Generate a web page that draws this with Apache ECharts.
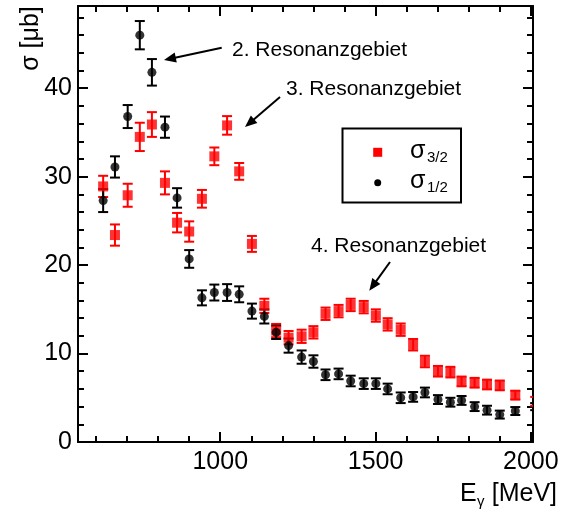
<!DOCTYPE html>
<html><head><meta charset="utf-8">
<script src="https://cdn.jsdelivr.net/npm/echarts@6/dist/echarts.min.js"></script>
<style>html,body{margin:0;padding:0;background:#fff}#c{width:571px;height:515px}</style>
</head><body><div id="c"></div>
<script>
// photon energy E_gamma [MeV]
const energy = [623, 661, 702, 741, 780, 822, 861, 900, 941, 981, 1022, 1061, 1102, 1142, 1180, 1220, 1262, 1300, 1339, 1381, 1420, 1462, 1501, 1539, 1581, 1621, 1659, 1701, 1741, 1777, 1819, 1859, 1900, 1950, 2014];
// sigma_3/2 [mub]
const sigma32 = [28.9, 23.4, 27.9, 34.5, 35.9, 29.3, 24.8, 23.8, 27.5, 32.3, 35.8, 30.6, 22.4, 15.4, 12.6, 11.8, 11.95, 12.4, 14.5, 14.8, 15.5, 15.25, 14.3, 13.3, 12.7, 11.0, 9.1, 8.0, 7.9, 6.85, 6.7, 6.5, 6.4, 5.3, 4.6];
const err32 = [1.2, 1.2, 1.3, 1.6, 1.4, 1.3, 1.1, 1.15, 1.0, 1.0, 1.05, 0.95, 0.9, 0.8, 0.75, 0.75, 0.75, 0.7, 0.7, 0.7, 0.7, 0.7, 0.7, 0.7, 0.7, 0.65, 0.65, 0.6, 0.6, 0.55, 0.55, 0.55, 0.55, 0.5, 0.5];
// sigma_1/2 [mub]
const sigma12 = [27.3, 31.1, 36.8, 46.0, 41.8, 35.6, 27.6, 20.7, 16.3, 16.9, 16.9, 16.7, 14.8, 14.2, 12.4, 10.9, 9.6, 9.1, 7.6, 7.7, 6.9, 6.6, 6.6, 6.0, 5.0, 5.1, 5.6, 4.8, 4.5, 4.7, 4.0, 3.6, 3.1, 3.5, 4.0];
const err12 = [1.3, 1.2, 1.3, 1.6, 1.5, 1.2, 1.1, 1.0, 0.85, 0.9, 0.95, 0.9, 0.85, 0.8, 0.75, 0.8, 0.75, 0.7, 0.6, 0.6, 0.6, 0.6, 0.6, 0.6, 0.6, 0.55, 0.55, 0.5, 0.5, 0.5, 0.5, 0.5, 0.45, 0.45, 0.4];
// ticks
const xMajorTicks = [1000, 1500, 2000];
const xMinorTicks = [600, 700, 800, 900, 1100, 1200, 1300, 1400, 1600, 1700, 1800, 1900];
const yMajorTicks = [0, 10, 20, 30, 40];
const yMinorTicks = [2, 4, 6, 8, 12, 14, 16, 18, 22, 24, 26, 28, 32, 34, 36, 38, 42, 44, 46, 48];

const FONT = 'Liberation Sans, Arial, sans-serif';
const RED = '#ff0000', BLACK = '#000000';
const X_MIN = 542, X_MAX = 2007, Y_MIN = 0, Y_MAX = 49.3;

function xAx(pos, ticks, len, labels) {
  return {
    type: 'value', position: pos, min: X_MIN, max: X_MAX,
    axisLine: { show: len === 10, onZero: false, lineStyle: { color: BLACK, width: 2 } },
    axisTick: { show: true, inside: true, length: len, customValues: ticks, lineStyle: { color: BLACK, width: 2 } },
    axisLabel: labels ? { show: true, customValues: ticks, fontSize: 25, fontFamily: FONT, color: BLACK, margin: 8, formatter: v => String(v) } : { show: false },
    splitLine: { show: false }
  };
}
function yAx(pos, ticks, len, labels) {
  return {
    type: 'value', position: pos, min: Y_MIN, max: Y_MAX, offset: 0,
    axisLine: { show: len === 10, onZero: false, lineStyle: { color: BLACK, width: 2 } },
    axisTick: { show: true, inside: true, length: len, customValues: ticks, lineStyle: { color: BLACK, width: 2 } },
    axisLabel: labels ? { show: true, customValues: ticks, fontSize: 25, fontFamily: FONT, color: BLACK, margin: 6, formatter: v => String(v) } : { show: false },
    splitLine: { show: false }
  };
}

function errData(s, e) { return energy.map((x, i) => [x, s[i] - e[i], s[i] + e[i]]); }
function errSeries(s, e, color) {
  return {
    type: 'custom', xAxisIndex: 0, yAxisIndex: 0, clip: true, silent: true,
    data: errData(s, e), encode: { x: 0, y: [1, 2] },
    renderItem: function (params, api) {
      const x = api.value(0);
      const lo = api.coord([x, api.value(1)]);
      const hi = api.coord([x, api.value(2)]);
      const hw = 5;
      const st = { stroke: color, lineWidth: 2 };
      return { type: 'group', children: [
        { type: 'line', shape: { x1: lo[0], y1: lo[1], x2: hi[0], y2: hi[1] }, style: st },
        { type: 'line', shape: { x1: lo[0] - hw, y1: lo[1], x2: lo[0] + hw, y2: lo[1] }, style: st },
        { type: 'line', shape: { x1: hi[0] - hw, y1: hi[1], x2: hi[0] + hw, y2: hi[1] }, style: st }
      ] };
    }
  };
}

function arrow(x1, y1, x2, y2) {
  const dx = x2 - x1, dy = y2 - y1, L = Math.hypot(dx, dy), ux = dx / L, uy = dy / L;
  const hl = 12, hw = 5;
  const bx = x2 - ux * hl, by = y2 - uy * hl;
  return [
    { type: 'line', shape: { x1: x1, y1: y1, x2: bx + ux * 2, y2: by + uy * 2 }, style: { stroke: BLACK, lineWidth: 2 } },
    { type: 'polygon', shape: { points: [[x2, y2], [bx - uy * hw, by + ux * hw], [bx + uy * hw, by - ux * hw]] }, style: { fill: BLACK } }
  ];
}
function txt(x, y, t, size, align, extra) {
  return Object.assign({ type: 'text', x: x, y: y, style: { text: t, fontSize: size, fontFamily: FONT, fill: BLACK, align: align || 'left', verticalAlign: 'middle' } }, extra || {});
}

const chart = echarts.init(document.getElementById('c'), null, { renderer: 'canvas' });
chart.setOption({
  animation: false,
  backgroundColor: '#ffffff',
  textStyle: { fontFamily: FONT },
  grid: { left: 78, right: 38, top: 6, bottom: 73, containLabel: false },
  xAxis: [
    xAx('bottom', xMajorTicks, 10, true),
    xAx('bottom', xMinorTicks, 6, false),
    xAx('top', xMajorTicks, 10, false),
    xAx('top', xMinorTicks, 6, false)
  ],
  yAxis: [
    yAx('left', yMajorTicks, 10, true),
    yAx('left', yMinorTicks, 6, false),
    yAx('right', yMajorTicks, 10, false),
    yAx('right', yMinorTicks, 6, false)
  ],
  series: [
    errSeries(sigma32, err32, RED),
    { name: 'σ3/2', type: 'scatter', xAxisIndex: 0, yAxisIndex: 0, symbol: 'rect', symbolSize: 10,
      itemStyle: { color: RED }, data: energy.map((x, i) => [x, sigma32[i]]) },
    errSeries(sigma12, err12, BLACK),
    { name: 'σ1/2', type: 'scatter', xAxisIndex: 0, yAxisIndex: 0, symbol: 'circle', symbolSize: 9,
      itemStyle: { color: BLACK }, data: energy.map((x, i) => [x, sigma12[i]]) }
  ],
  graphic: [].concat(
    [
      txt(232, 50, '2. Resonanzgebiet', 21),
      txt(286, 89, '3. Resonanzgebiet', 21),
      txt(311, 246, '4. Resonanzgebiet', 21),
      txt(31, 38.5, 'σ [μb]', 25, 'center', { rotation: Math.PI / 2 }),
      txt(460, 494, 'E', 25),
      txt(477, 502, 'γ', 15),
      txt(557, 494, '[MeV]', 25, 'right'),
      { type: 'rect', shape: { x: 342.5, y: 128.5, width: 118.5, height: 74 }, style: { fill: 'none', stroke: BLACK, lineWidth: 2 } },
      { type: 'rect', shape: { x: 373.2, y: 147.8, width: 9, height: 9 }, style: { fill: RED } },
      { type: 'circle', shape: { cx: 377.7, cy: 182.7, r: 3.5 }, style: { fill: BLACK } },
      txt(410, 151, 'σ', 25),
      txt(427, 158, '3/2', 15),
      txt(410, 181, 'σ', 25),
      txt(427, 188, '1/2', 15)
    ],
    arrow(221.7, 47.7, 164, 60),
    arrow(280, 97, 245, 127),
    arrow(390, 262, 369.3, 290.7)
  )
});
</script></body></html>
